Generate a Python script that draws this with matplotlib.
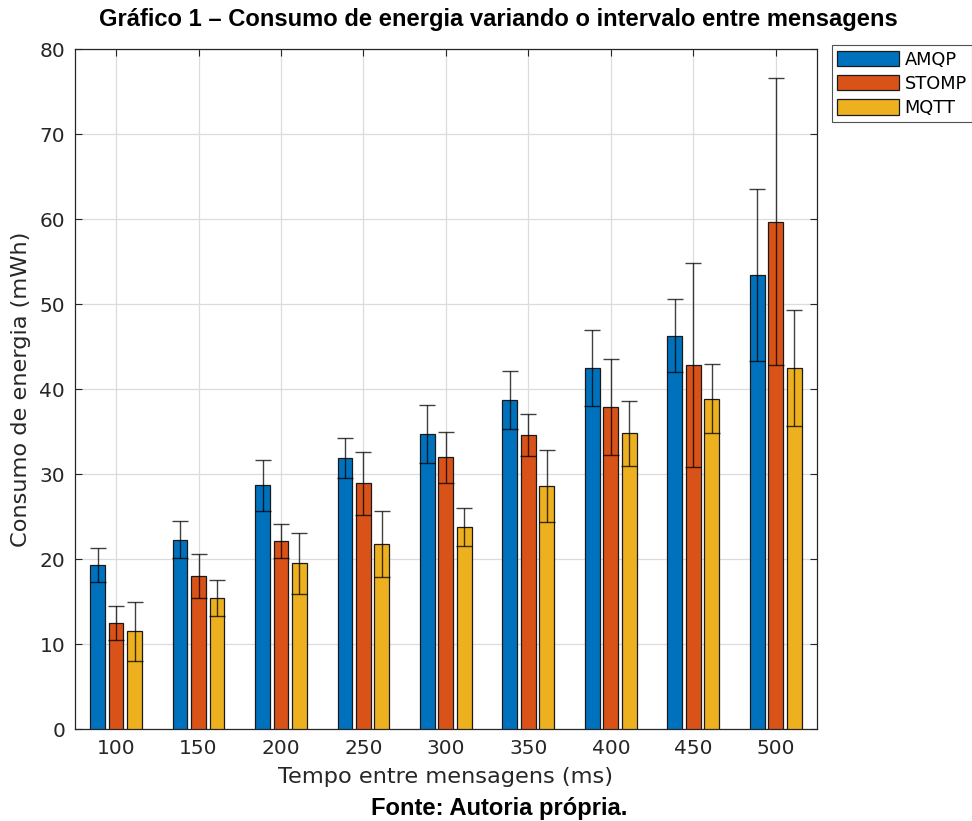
import numpy as np
import matplotlib
matplotlib.use("Agg")
import matplotlib.pyplot as plt

plt.rcParams["font.family"] = ["DejaVu Sans"]

# Intervalo entre mensagens (ms)
intervalos = [100, 150, 200, 250, 300, 350, 400, 450, 500]
protocolos = ["AMQP", "STOMP", "MQTT"]

# Consumo médio (mWh) e desvio padrão
amqp = [19.3, 22.3, 28.7, 31.9, 34.7, 38.7, 42.5, 46.3, 53.4]
amqp_err = [1.95, 2.2, 3.0, 2.3, 3.4, 3.4, 4.5, 4.3, 10.1]
stomp = [12.5, 18.0, 22.1, 28.9, 32.0, 34.6, 37.9, 42.8, 59.7]
stomp_err = [2.0, 2.6, 2.0, 3.7, 3.0, 2.5, 5.6, 12.0, 16.9]
mqtt = [11.5, 15.4, 19.5, 21.8, 23.8, 28.6, 34.8, 38.9, 42.5]
mqtt_err = [3.5, 2.1, 3.6, 3.9, 2.2, 4.2, 3.8, 4.05, 6.85]

cores = ["#0072BD", "#D95319", "#EDB120"]

fig = plt.figure(figsize=(9.72, 8.21), dpi=100)
ax = fig.add_axes([0.077, 0.112, 0.7635, 0.828])

x = np.array(intervalos, dtype=float)
largura = 9.0
desloc = 11.2
series = [(amqp, amqp_err), (stomp, stomp_err), (mqtt, mqtt_err)]
for i, (vals, errs) in enumerate(series):
    pos = x + (i - 1) * desloc
    ax.bar(pos, vals, width=largura, color=cores[i], edgecolor="#1a1a1a",
           linewidth=0.9, label=protocolos[i], zorder=3)
    ax.errorbar(pos, vals, yerr=errs, fmt="none", ecolor="black",
                elinewidth=1.0, capsize=6, capthick=1.0, alpha=0.75, zorder=4)

ax.set_xlim(75, 525)
ax.set_ylim(0, 80)
ax.set_xticks(intervalos)
ax.set_yticks(range(0, 81, 10))
ax.tick_params(axis="both", direction="in", labelsize=14.5, top=True, right=True,
               length=5, width=0.8, colors="#262626", pad=7)
ax.grid(True, color="#dcdcdc", linewidth=0.9, zorder=0)
ax.set_axisbelow(True)
for s in ax.spines.values():
    s.set_color("#262626")
    s.set_linewidth(0.9)

ax.set_xlabel("Tempo entre mensagens (ms)", fontsize=16.2, color="#262626", labelpad=6.5)
ax.set_ylabel("Consumo de energia (mWh)", fontsize=16.2, color="#262626", labelpad=6)

leg = ax.legend(loc="upper left", bbox_to_anchor=(1.02, 1.006), fontsize=12.8,
                frameon=True, fancybox=False, edgecolor="#262626",
                handlelength=3.5, handleheight=0.95, handletextpad=0.3,
                labelspacing=0.35, borderpad=0.3, borderaxespad=0.0)
leg.get_frame().set_linewidth(0.8)

fig.text(0.513, 0.976, "Gráfico 1 – Consumo de energia variando o intervalo entre mensagens",
         ha="center", va="center", fontsize=17.1, fontweight="bold",
         family="Liberation Sans")
fig.text(0.514, 0.015, "Fonte: Autoria própria.", ha="center", va="center",
         fontsize=17.1, fontweight="bold", family="Liberation Sans")

fig.savefig("out.png", dpi=100)
